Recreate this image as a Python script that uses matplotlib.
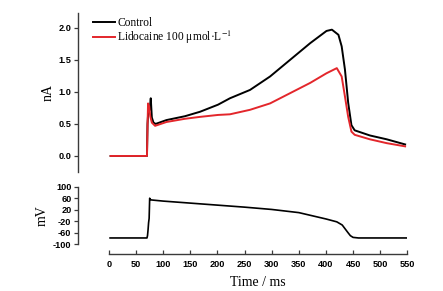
#!/usr/bin/env python3
"""Lidocaine effect on current under AP clamp - two stacked panels (current / voltage)."""

import matplotlib
matplotlib.use('Agg')
import matplotlib.pyplot as plt
from matplotlib.font_manager import FontProperties

# ---- current traces (nA) ----
CTRL_T = [3, 70, 71, 73, 75, 77, 79, 82, 86, 106, 140, 168, 201, 223, 260,
          297, 334, 371, 401, 411, 423, 429, 435, 441, 447, 453, 481, 512, 546]
CTRL_I = [0, 0, 0.5, 0.78, 0.72, 0.90, 0.6, 0.52, 0.5, 0.56, 0.62, 0.69, 0.80,
          0.90, 1.03, 1.24, 1.50, 1.76, 1.95, 1.97, 1.89, 1.71, 1.35, 0.83,
          0.48, 0.40, 0.32, 0.26, 0.18]

LIDO_T = [3, 70, 71, 72, 74, 76, 79, 85, 106, 140, 168, 201, 223, 260, 297,
          334, 371, 381, 401, 420, 429, 435, 441, 447, 453, 481, 512, 546]
LIDO_I = [0, 0, 0.45, 0.82, 0.78, 0.62, 0.52, 0.47, 0.53, 0.58, 0.61, 0.64,
          0.65, 0.72, 0.82, 0.98, 1.14, 1.19, 1.29, 1.37, 1.24, 0.93, 0.61,
          0.38, 0.33, 0.26, 0.20, 0.15]

# ---- voltage command (mV) ----
AP_T = [2, 70, 71, 72, 73, 74, 75, 76, 78, 100, 150, 200, 250, 300, 350, 400,
        420, 430, 440, 445, 450, 460, 550]
AP_V = [-78, -78, -70, -50, -25, -10, 60, 56, 54, 50, 43, 36, 29, 21, 10, -12,
        -22, -33, -58, -70, -76, -78, -78]

I_TICKS = [0.0, 0.5, 1.0, 1.5, 2.0]
V_TICKS = [100, 60, 20, -20, -60, -100]
T_TICKS = list(range(0, 551, 50))

CTRL_COLOR = '#000000'
LIDO_COLOR = '#e3262b'
SPINE_COLOR = '#3a3a3a'

plt.rcParams.update({
    'font.family': 'serif',
    'font.serif': ['Liberation Serif', 'DejaVu Serif'],
    'mathtext.fontset': 'stix',
    'figure.facecolor': 'white',
    'axes.facecolor': 'white',
})

TICK_FONT = FontProperties(family='Liberation Sans', size=6.6, weight='bold')


def style_left(ax):
    for s in ['top', 'right']:
        ax.spines[s].set_visible(False)
    ax.spines['left'].set_position(('outward', 22.5))
    ax.spines['left'].set_color(SPINE_COLOR)
    ax.spines['left'].set_linewidth(1.0)
    ax.tick_params(axis='y', direction='out', length=3, width=0.9,
                   color=SPINE_COLOR, pad=1.5)
    for lab in ax.get_yticklabels():
        lab.set_fontproperties(TICK_FONT)


def main():
    fig = plt.figure(figsize=(4.43, 2.91), dpi=100)
    ax1 = fig.add_axes([109 / 443, 1 - 172 / 291, (407.3 - 109) / 443, 159 / 291])
    ax2 = fig.add_axes([109 / 443, 1 - 244.3 / 291, (407.3 - 109) / 443, 57.6 / 291])

    # ---- current panel ----
    ax1.plot(CTRL_T, CTRL_I, color=CTRL_COLOR, lw=1.4, label='Control')
    ax1.plot(LIDO_T, LIDO_I, color=LIDO_COLOR, lw=1.4,
             label='Lidocaine 100 μmol·L$^{-1}$')
    ax1.set_xlim(0, 550)
    ax1.set_ylim(-0.25, 2.23)
    ax1.set_yticks(I_TICKS)
    ax1.set_yticklabels([f'{v:.1f}' for v in I_TICKS])
    ax1.spines['bottom'].set_visible(False)
    ax1.set_xticks([])
    style_left(ax1)
    ax1.set_ylabel('nA', fontsize=10, labelpad=3)
    ax1.legend(loc='upper left', bbox_to_anchor=(-0.063, 0.99), frameon=False,
               fontsize=8.3, handlelength=1.95, handletextpad=0.2,
               labelspacing=0.0, borderaxespad=0.0, borderpad=0.2)

    # ---- voltage panel ----
    ax2.plot(AP_T, AP_V, color=CTRL_COLOR, lw=1.2)
    ax2.set_xlim(0, 550)
    ax2.set_ylim(-100, 100)
    ax2.set_yticks(V_TICKS)
    ax2.set_yticklabels([str(v) for v in V_TICKS])
    style_left(ax2)
    ax2.spines['bottom'].set_position(('outward', 7))
    ax2.spines['bottom'].set_color(SPINE_COLOR)
    ax2.spines['bottom'].set_linewidth(1.0)
    ax2.set_xticks(T_TICKS)
    ax2.tick_params(axis='x', direction='in', length=3, width=0.9,
                    color=SPINE_COLOR, pad=4)
    for lab in ax2.get_xticklabels():
        lab.set_fontproperties(TICK_FONT)
    ax2.set_ylabel('mV', fontsize=10, labelpad=3)
    ax2.set_xlabel('Time / ms', fontsize=10, labelpad=5)

    fig.savefig('out.png', dpi=100, facecolor='white')
    plt.close(fig)


if __name__ == '__main__':
    main()
